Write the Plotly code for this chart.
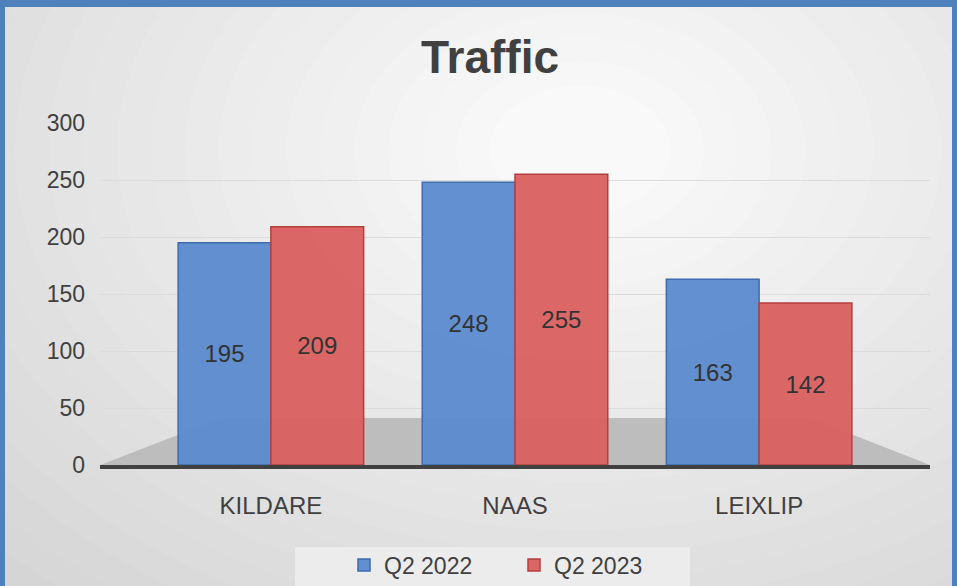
import plotly.graph_objects as go

categories = ["KILDARE", "NAAS", "LEIXLIP"]
series_names = ["Q2 2022", "Q2 2023"]
q2_2022 = [195, 248, 163]
q2_2023 = [209, 255, 142]
y_ticks = [0, 50, 100, 150, 200, 250, 300]

W, H = 957, 586
L, R, T, B = 100, 27, 123, 121
PW, PH = W - L - R, H - T - B


def px(x):
    return (x - L) / PW


def py(y):
    return (H - B - y) / PH


FONT = "Liberation Sans, Arial, sans-serif"
TXT = "#404040"

fig = go.Figure()
fig.add_trace(go.Bar(
    name=series_names[0], x=categories, y=q2_2022,
    marker=dict(color="rgba(90,138,206,0.95)", line=dict(color="#3e6cae", width=1.5)),
    text=q2_2022, textposition="inside", insidetextanchor="middle",
    textfont=dict(size=24, color="#333333", family=FONT),
))
fig.add_trace(go.Bar(
    name=series_names[1], x=categories, y=q2_2023,
    marker=dict(color="rgba(217,96,95,0.95)", line=dict(color="#b43f3f", width=1.5)),
    text=q2_2023, textposition="inside", insidetextanchor="middle",
    textfont=dict(size=24, color="#333333", family=FONT),
))

shapes = []
# smooth background gradient (many concentric ellipses, lighter toward the centre)
cx, cy = 580, 150
n = 24
for i in range(n):
    s = 1.45 - i * (1.3 / (n - 1))
    g = int(212 + (249 - 212) * i / (n - 1))
    col = "rgb({0},{0},{0})".format(g)
    rx, ry = 600 * s, 430 * s
    shapes.append(dict(type="circle", xref="paper", yref="paper", layer="below",
                       x0=px(cx - rx), x1=px(cx + rx), y0=py(cy + ry), y1=py(cy - ry),
                       fillcolor=col, line=dict(width=0)))
# floor
fx = [100, 930, 810, 222]
fy = [465, 465, 418, 418]
path = "M {} {} L {} {} L {} {} L {} {} Z".format(
    *[v for pair in zip([px(a) for a in fx], [py(b) for b in fy]) for v in pair])
shapes.append(dict(type="path", xref="paper", yref="paper", layer="below", path=path,
                   fillcolor="#bdbdbd", line=dict(width=0)))
# legend box
shapes.append(dict(type="rect", xref="paper", yref="paper", layer="below",
                   x0=px(295), x1=px(690), y0=py(592), y1=py(547),
                   fillcolor="#ececec", line=dict(width=0)))
# blue frame
for x0, x1, y0, y1 in [(-2, 5, -2, 600), (-2, 960, -2, 7), (952, 960, -2, 600)]:
    shapes.append(dict(type="rect", xref="paper", yref="paper", layer="above",
                       x0=px(x0), x1=px(x1), y0=py(y1), y1=py(y0),
                       fillcolor="#4f81bd", line=dict(width=0)))

fig.update_layout(
    width=W, height=H,
    margin=dict(l=L, r=R, t=T, b=B, autoexpand=False),
    paper_bgcolor="#d2d2d2",
    plot_bgcolor="rgba(0,0,0,0)",
    font=dict(family=FONT, color=TXT),
    title=dict(text="<b>Traffic</b>", x=0.512, xanchor="center", y=1 - 57 / H, yanchor="middle",
               font=dict(size=46, color=TXT, family=FONT)),
    barmode="group", bargap=0.24, bargroupgap=0.0,
    xaxis=dict(range=[-0.7, 2.7], showline=True, linecolor="#404040", linewidth=4,
               showgrid=False, ticks="", tickfont=dict(size=24, color=TXT),
               ticklabelstandoff=16),
    yaxis=dict(range=[0, 300], tickvals=y_ticks, showgrid=True, gridcolor="#dcdcdc",
               gridwidth=1, zeroline=False, ticks="", tickfont=dict(size=23, color=TXT),
               ticklabelstandoff=14),
    legend=dict(orientation="h", x=px(514), xanchor="center", y=py(565), yanchor="middle",
                bgcolor="rgba(0,0,0,0)", font=dict(size=23, color=TXT, family=FONT),
                entrywidth=125, itemwidth=30),
    shapes=shapes,
    showlegend=True,
)

fig.write_html("out.html", config={"displayModeBar": False},
               post_script="document.body.style.margin='0';document.body.style.overflow='hidden';")
